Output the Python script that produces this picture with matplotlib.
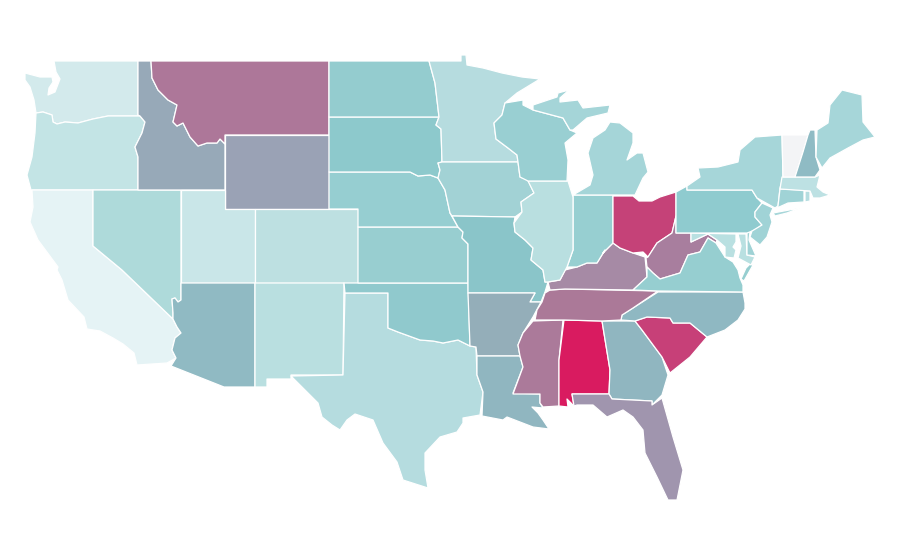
import matplotlib
matplotlib.use('Agg')  # no display
import matplotlib.pyplot as plt

# Outlines in picture units (x right, y down), one list per state part
WA = [(54,61),(138,61),(138,115),(140,116),(108,116),(93,119),(78,123),(65,122),(57,124),(53,122),(52,115),(43,112),(36,113),(34,100),(30,87),(25,80),(25,73),(40,77),(52,77),(53,82),(49,88),(48,95),(55,92),(60,79),(56,72)]
OR = [(140,116),(145,122),(142,133),(135,147),(138,157),(138,190),(31,190),(27,175),(32,157),(35,133),(36,113),(43,112),(52,115),(53,122),(57,124),(65,122),(78,123),(93,119),(108,116)]
CA = [(32,190),(93,190),(93,246),(122,270),(173,319),(177,327),(181,333),(175,338),(172,350),(176,358),(167,363),(137,365),(134,353),(123,344),(113,338),(100,331),(87,329),(84,317),(68,300),(62,280),(57,270),(58,267),(38,240),(30,222),(33,207)]
NV = [(93,190),(181,190),(181,300),(178,302),(175,298),(172,299),(173,313),(173,319),(122,270),(93,246)]
ID = [(138,61),(151,61),(152,78),(158,90),(168,100),(177,105),(173,122),(177,126),(183,123),(190,137),(198,146),(207,143),(217,143),(220,139),(225,144),(225,190),(138,190),(138,157),(135,147),(142,133),(145,122),(140,116),(138,115)]
MT = [(151,61),(329,61),(329,135),(225,135),(225,144),(220,139),(217,143),(207,143),(198,146),(190,137),(183,123),(177,126),(173,122),(177,105),(168,100),(158,90),(152,78)]
WY = [(225,135),(329,135),(329,209),(225,209)]
UT = [(181,190),(225,190),(225,209),(255,209),(255,283),(181,283)]
CO = [(255,209),(358,209),(358,283),(255,283)]
AZ = [(181,283),(255,283),(255,387),(224,387),(171,366),(176,358),(172,350),(175,338),(181,333),(177,327),(173,319),(173,313),(172,299),(175,298),(178,302),(181,300)]
NM = [(255,283),(344,283),(343,375),(291,375),(291,379),(267,379),(267,387),(255,387)]
TX = [(345,293),(388,293),(388,328),(398,332),(420,340),(433,341),(443,343),(458,340),(470,346),(476,347),(477,375),(483,392),(480,415),(463,418),(463,423),(457,432),(440,437),(425,453),(425,470),(428,488),(403,480),(397,462),(383,443),(373,420),(355,414),(347,420),(340,430),(332,425),(322,417),(318,403),(307,392),(295,380),(291,376),(343,375)]
OK = [(344,283),(468,283),(470,346),(458,340),(443,343),(433,341),(420,340),(398,332),(388,328),(388,293),(345,293)]
KS = [(358,227),(458,227),(463,232),(462,238),(468,244),(468,283),(358,283)]
NE = [(329,172),(410,172),(418,176),(430,175),(438,178),(445,190),(450,213),(458,227),(358,227),(358,209),(329,209)]
SD = [(329,117),(439,117),(436,125),(441,129),(442,162),(438,163),(440,170),(438,178),(430,175),(418,176),(410,172),(329,172)]
ND = [(329,61),(429,61),(435,83),(437,100),(439,117),(329,117)]
MN = [(429,61),(461,61),(461,55),(466,55),(467,65),(483,68),(502,73),(522,77),(540,79),(517,93),(505,103),(502,115),(494,123),(496,139),(508,148),(517,155),(518,162),(442,162),(441,129),(436,125),(439,117),(437,100),(435,83)]
IA = [(442,162),(518,162),(520,177),(528,180),(534,193),(521,202),(522,212),(515,217),(452,216),(450,213),(445,190),(438,178),(440,170),(438,163)]
MO = [(452,216),(515,217),(514,223),(515,232),(525,240),(533,248),(531,260),(543,270),(545,282),(548,282),(545,292),(541,302),(530,302),(535,293),(468,293),(468,244),(462,238),(463,232),(458,227)]
AR = [(468,293),(535,293),(530,302),(541,302),(533,317),(523,333),(518,345),(520,356),(477,356),(476,347),(470,346)]
LA = [(477,356),(520,356),(523,367),(513,393),(540,394),(540,403),(543,408),(532,407),(538,413),(543,420),(549,429),(533,427),(520,422),(507,417),(503,420),(482,416),(483,392),(477,375)]
MS = [(533,321),(563,320),(559,360),(559,406),(543,407),(540,403),(540,394),(513,394),(523,367),(520,356),(518,345),(523,333)]
AL = [(564,320),(602,321),(610,370),(609,394),(572,394),(574,406),(567,399),(568,407),(559,406),(559,360)]
GA = [(602,321),(635,321),(642,330),(662,357),(668,375),(662,395),(652,405),(652,401),(612,399),(609,394),(610,370)]
FL = [(572,394),(609,394),(612,399),(652,401),(652,405),(662,398),(673,437),(683,470),(677,500),(668,500),(657,477),(645,453),(643,430),(633,417),(623,410),(607,417),(593,405),(577,405),(574,406)]
SC = [(635,321),(647,317),(670,318),(673,323),(690,323),(707,337),(690,357),(670,373),(662,357),(642,330)]
NC = [(621,320),(622,315),(633,308),(658,292),(743,292),(745,303),(745,309),(738,320),(725,330),(707,337),(690,323),(673,323),(670,318),(647,317),(635,321)]
TN = [(535,320),(537,310),(542,302),(545,293),(550,290),(565,289),(658,291),(633,308),(622,315),(621,320),(602,321),(564,320)]
KY = [(548,282),(550,290),(565,289),(633,290),(647,277),(645,257),(633,253),(620,248),(613,243),(603,253),(605,250),(597,263),(587,263),(577,267),(565,270),(560,280)]
IN = [(573,195),(613,195),(613,243),(603,253),(605,250),(597,263),(587,263),(577,267),(567,267),(573,250)]
IL = [(528,181),(568,181),(573,197),(573,250),(567,267),(560,280),(548,282),(545,282),(543,270),(531,260),(533,248),(525,240),(515,232),(514,223),(522,212),(521,202),(534,193)]
WI = [(505,103),(523,100),(523,105),(533,110),(563,118),(570,130),(577,133),(565,143),(568,160),(567,181),(528,181),(520,177),(518,162),(517,155),(508,148),(496,139),(494,123),(502,115)]
MI_UPPER = [(533,105),(557,97),(558,93),(569,90),(560,98),(560,102),(578,100),(583,108),(610,105),(608,113),(587,118),(573,130),(570,130),(563,118),(533,110)]
MI_LOWER = [(610,122),(620,123),(633,133),(633,143),(627,160),(637,153),(643,153),(648,172),(643,178),(635,195),(573,195),(590,185),(593,175),(588,153),(593,138),(605,130)]
OH = [(613,196),(633,196),(639,201),(652,201),(660,197),(676,192),(676,216),(672,233),(657,243),(648,257),(643,252),(633,253),(620,248),(613,243)]
WV = [(646,258),(648,257),(657,243),(672,233),(676,216),(676,233),(691,233),(691,242),(708,234),(717,240),(716,243),(708,238),(700,252),(688,255),(680,273),(660,279),(653,273),(647,267)]
VA = [(633,290),(647,277),(647,267),(653,273),(660,279),(680,273),(688,255),(700,252),(708,238),(716,243),(725,257),(733,262),(738,270),(740,278),(743,285),(743,292),(658,291)]
VA_SHORE = [(750,264),(753,265),(744,281),(741,279),(746,268)]
MD_WEST = [(691,233),(736,234),(736,242),(733,247),(736,250),(734,258),(725,257),(725,247),(717,240),(708,234),(691,242)]
MD_EAST = [(738,234),(746,234),(747,255),(755,257),(751,265),(738,258),(741,246)]
DE = [(747,232),(750,232),(749,240),(756,256),(747,255)]
PA = [(676,192),(687,186),(687,190),(752,190),(757,198),(762,203),(755,212),(755,217),(762,225),(755,230),(747,233),(676,233)]
NY = [(687,190),(687,186),(700,177),(698,168),(718,167),(738,162),(740,150),(755,137),(782,135),(783,177),(780,188),(778,206),(775,208),(757,198),(752,190)]
LONG_ISLAND = [(773,213),(800,208),(787,213),(775,216)]
NJ = [(762,203),(773,208),(770,215),(772,222),(767,237),(760,245),(750,237),(752,231),(762,225),(755,217),(755,212)]
CT = [(780,189),(804,190),(804,202),(788,203),(777,208),(778,206)]
RI = [(805,191),(810,191),(810,201),(805,202)]
MA = [(782,177),(815,177),(820,175),(817,187),(823,192),(830,195),(820,198),(813,198),(810,191),(780,189)]
VT = [(782,135),(808,135),(803,152),(795,177),(783,177)]
NH = [(810,130),(815,130),(816,157),(820,170),(815,177),(795,177),(803,152),(808,135)]
ME = [(817,130),(828,123),(830,105),(842,90),(862,95),(863,122),(875,137),(863,140),(848,148),(830,158),(822,168),(816,157)]

# Fill colours, in the same order as the shapes below
shapes = [WA, OR, CA, NV, ID, MT, WY, UT, CO, AZ, NM, TX, OK, KS, NE, SD, ND, MN, IA, MO, AR, LA, MS, AL, GA, FL, SC, NC, TN, KY, IN, IL, WI,
          MI_UPPER, MI_LOWER, OH, WV, VA, VA_SHORE, MD_WEST, MD_EAST, DE, PA, NY, LONG_ISLAND, NJ, CT, RI, MA, VT, NH, ME]
colors = ['#d3eaec', '#c3e4e5', '#e5f3f5', '#aedada', '#97a9b8', '#ad7799', '#9aa2b5', '#c9e6e8', '#bde0e1', '#90bac3', '#b9dfe0', '#b5dcdf',
          '#90c9cd', '#98ced0', '#96ced1', '#8dc9cc', '#94cccf', '#b6dcdf', '#a2d2d5', '#8ac5c9', '#94aeb9', '#90b6c0', '#ab7a9a', '#d91b60',
          '#90b6c0', '#a095ae', '#c74078', '#8fb8c2', '#ab7998', '#a68aa5', '#97cfd1', '#b9dfe0', '#99cfd2', '#a5d5d8', '#a5d5d8', '#c54278',
          '#a87e9e', '#96ced0', '#96ced0', '#b9e0e1', '#b9e0e1', '#9fd2d5', '#8fcbcf', '#a6d6d9', '#a6d6d9', '#a0d3d6', '#a0d3d6', '#b5dde0',
          '#bde1e3', '#f3f4f6', '#8fbbc4', '#a6d6d9']

fig = plt.figure(figsize=(9, 5.6), dpi=100)
ax = fig.add_axes([0, 0, 1, 1])
for outline, color in zip(shapes, colors):
    xs = [p[0] for p in outline]
    ys = [p[1] for p in outline]
    ax.fill(xs, ys, facecolor=color, edgecolor='white', linewidth=0.9, joinstyle='round')
ax.set_xlim(0, 900)
ax.set_ylim(560, 0)
ax.axis('off')

fig.savefig('out.png', dpi=100)
plt.close(fig)
